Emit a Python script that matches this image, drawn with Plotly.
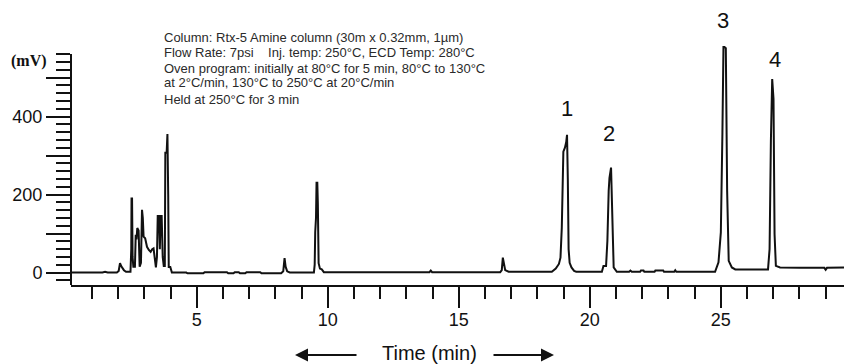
import plotly.graph_objects as go

# ---------------- data ----------------
time_min = [0.20, 1.40, 1.50, 1.60, 1.95, 2.02, 2.07, 2.12, 2.22, 2.30, 2.47, 2.50, 2.51, 2.53, 2.55,
            2.58, 2.64, 2.67, 2.70, 2.73, 2.78, 2.82, 2.87, 2.91, 2.94, 2.97, 3.03, 3.10, 3.17, 3.24,
            3.30, 3.35, 3.40, 3.44, 3.48, 3.51, 3.56, 3.59, 3.62, 3.66, 3.70, 3.74, 3.78, 3.80, 3.85,
            3.88, 3.91, 3.93, 3.99, 4.05, 4.60, 4.65, 5.25, 5.30, 6.15, 6.20, 6.40, 6.45, 6.60, 6.65,
            6.85, 6.90, 7.42, 7.47, 8.22, 8.30, 8.35, 8.39, 8.45, 8.55, 9.47, 9.50, 9.52, 9.55, 9.57,
            9.60, 9.62, 9.65, 9.70, 9.77, 9.85, 13.88, 13.93, 13.98, 16.58, 16.64, 16.68, 16.72, 16.77,
            16.90, 18.55, 18.70, 18.82, 18.88, 18.93, 18.99, 19.05, 19.10, 19.13, 19.16, 19.19, 19.23,
            19.30, 19.40, 19.48, 20.46, 20.52, 20.62, 20.67, 20.72, 20.75, 20.81, 20.84, 20.87, 20.91,
            21.03, 21.50, 21.55, 21.60, 21.92, 21.95, 22.05, 22.08, 22.47, 22.50, 22.80, 22.83, 23.22,
            23.26, 23.30, 24.78, 24.91, 25.00, 25.06, 25.10, 25.14, 25.19, 25.24, 25.30, 25.42, 25.55,
            26.80, 26.86, 26.91, 26.96, 27.01, 27.05, 27.10, 27.26, 28.00, 28.95, 29.00, 29.05, 29.70]
signal_mv = [0, 0, 2, 0, 0, 4, 24, 16, 6, 2, 2, 60, 190, 190, 40,
             15, 15, 97, 85, 114, 108, 15, 25, 161, 140, 92, 88, 66, 58, 53,
             60, 62, 35, 13, 40, 145, 145, 60, 145, 145, 40, 17, 17, 307, 307,
             355, 200, 14, 14, 0, 0, -2, -2, 1, 1, -2, -2, 1, 1, -2,
             -2, 1, 1, -2, -2, 3, 37, 15, 3, 0, 0, 20, 104, 140, 230,
             230, 178, 24, 10, 8, 1, 1, 5, 1, 1, 6, 38, 20, 6,
             2, 2, 10, 22, 38, 115, 310, 320, 335, 353, 240, 60, 25,
             13, 4, 2, 2, 17, 17, 81, 210, 243, 269, 200, 158, 13,
             2, 2, 5, 2, 2, 5, 5, 2, 2, 5, 5, 2, 2,
             6, 2, 2, 26, 103, 359, 578, 578, 575, 210, 30, 13, 8,
             8, 60, 338, 496, 445, 98, 17, 13, 12, 12, 7, 12, 13]

peak_ids = ["1", "2", "3", "4"]

x_major_ticks = [5, 10, 15, 20, 25]
x_minor_ticks = [1, 2, 3, 4, 6, 7, 8, 9, 11, 12, 13, 14, 16, 17, 18, 19, 21, 22, 23, 24, 26, 27, 28, 29]
y_major_ticks = [0, 100, 200, 300, 400, 500]
y_tick_text = ["0", "", "200", "", "400", ""]
y_minor_ticks = [-20, 20, 40, 60, 80, 120, 140, 160, 180, 220, 240, 260, 280, 320, 340, 360, 380,
                 420, 440, 460, 480, 520, 540, 560]

info_lines = [
    "Column: Rtx-5 Amine column (30m x 0.32mm, 1µm)",
    "Flow Rate: 7psi    Inj. temp: 250°C, ECD Temp: 280°C",
    "Oven program: initially at 80°C for 5 min, 80°C to 130°C",
    "at 2°C/min, 130°C to 250°C at 20°C/min",
    "Held at 250°C for 3 min",
]

# ---------------- layout geometry ----------------
W, H = 844, 364
ML, MR, MT, MB = 71, 0, 5, 79
PW, PH = W - ML - MR, H - MT - MB


def pxx(x):
    return (x - ML) / PW


def pxy(y):
    return (H - MB - y) / PH


fig = go.Figure()
fig.add_trace(go.Scatter(x=time_min, y=signal_mv, mode="lines",
                         line=dict(color="#111111", width=2), hoverinfo="skip",
                         showlegend=False))

annotations = []
# peak numbers
peak_pos = [(19.12, 421), (20.74, 357), (25.10, 645), (27.05, 547)]
for pid, (px_, py_) in zip(peak_ids, peak_pos):
    annotations.append(dict(x=px_, y=py_, xref="x", yref="y", text=pid, showarrow=False,
                            font=dict(family="Liberation Sans, Arial", size=22, color="#111111"),
                            xanchor="center", yanchor="middle"))

# info text block
line_y = [37.3, 53.0, 68.3, 82.0, 99.3]
for txt, yy in zip(info_lines, line_y):
    annotations.append(dict(x=pxx(161.5), y=pxy(yy), xref="paper", yref="paper", text=txt,
                            showarrow=False, xanchor="left", yanchor="middle",
                            font=dict(family="Liberation Sans, Arial", size=13, color="#2a2a2a")))

# (mV)
annotations.append(dict(x=pxx(28.5), y=pxy(61.5), xref="paper", yref="paper", text="<b>(mV)</b>",
                        showarrow=False, xanchor="center", yanchor="middle",
                        font=dict(family="Liberation Serif, Times New Roman", size=16, color="#111111")))

# Time (min) with arrows
annotations.append(dict(x=pxx(429), y=pxy(352.5), xref="paper", yref="paper", text="Time (min)",
                        showarrow=False, xanchor="center", yanchor="middle",
                        font=dict(family="Liberation Sans, Arial", size=20, color="#111111")))
annotations.append(dict(x=pxx(295), y=pxy(355), xref="paper", yref="paper", text="",
                        showarrow=True, ax=63, ay=0, arrowhead=2, arrowsize=1.3, arrowwidth=2,
                        arrowcolor="#111111", standoff=0))
annotations.append(dict(x=pxx(554), y=pxy(355), xref="paper", yref="paper", text="",
                        showarrow=True, ax=-62, ay=0, arrowhead=2, arrowsize=1.3, arrowwidth=2,
                        arrowcolor="#111111", standoff=0))

y_min = -32
y_max = y_min + PH / 0.39

fig.update_layout(
    width=W, height=H,
    margin=dict(l=ML, r=MR, t=MT, b=MB, pad=0),
    paper_bgcolor="white", plot_bgcolor="white",
    annotations=annotations,
    shapes=[dict(type="line", xref="paper", yref="y", x0=0, x1=0, y0=y_min, y1=560,
                 line=dict(color="#111111", width=2))],
    xaxis=dict(range=[0.2, 29.7], showgrid=False, zeroline=False, showline=True,
               linecolor="#111111", linewidth=2, tickmode="array", tickvals=x_major_ticks,
               ticks="outside", ticklen=21, tickwidth=2, tickcolor="#111111",
               ticklabelstandoff=-4,
               tickfont=dict(family="Liberation Sans, Arial", size=18, color="#111111"),
               minor=dict(tickmode="array", tickvals=x_minor_ticks, ticks="outside",
                          ticklen=12, tickwidth=2, tickcolor="#111111", showgrid=False)),
    yaxis=dict(range=[y_min, y_max], showgrid=False, zeroline=False, showline=False,
               tickmode="array", tickvals=y_major_ticks, ticktext=y_tick_text,
               ticks="outside", ticklen=24, tickwidth=2, tickcolor="#111111",
               tickfont=dict(family="Liberation Sans, Arial", size=18, color="#111111"),
               minor=dict(tickmode="array", tickvals=y_minor_ticks, ticks="outside",
                          ticklen=14, tickwidth=2, tickcolor="#111111", showgrid=False)),
)

fig.write_html("out.html")
